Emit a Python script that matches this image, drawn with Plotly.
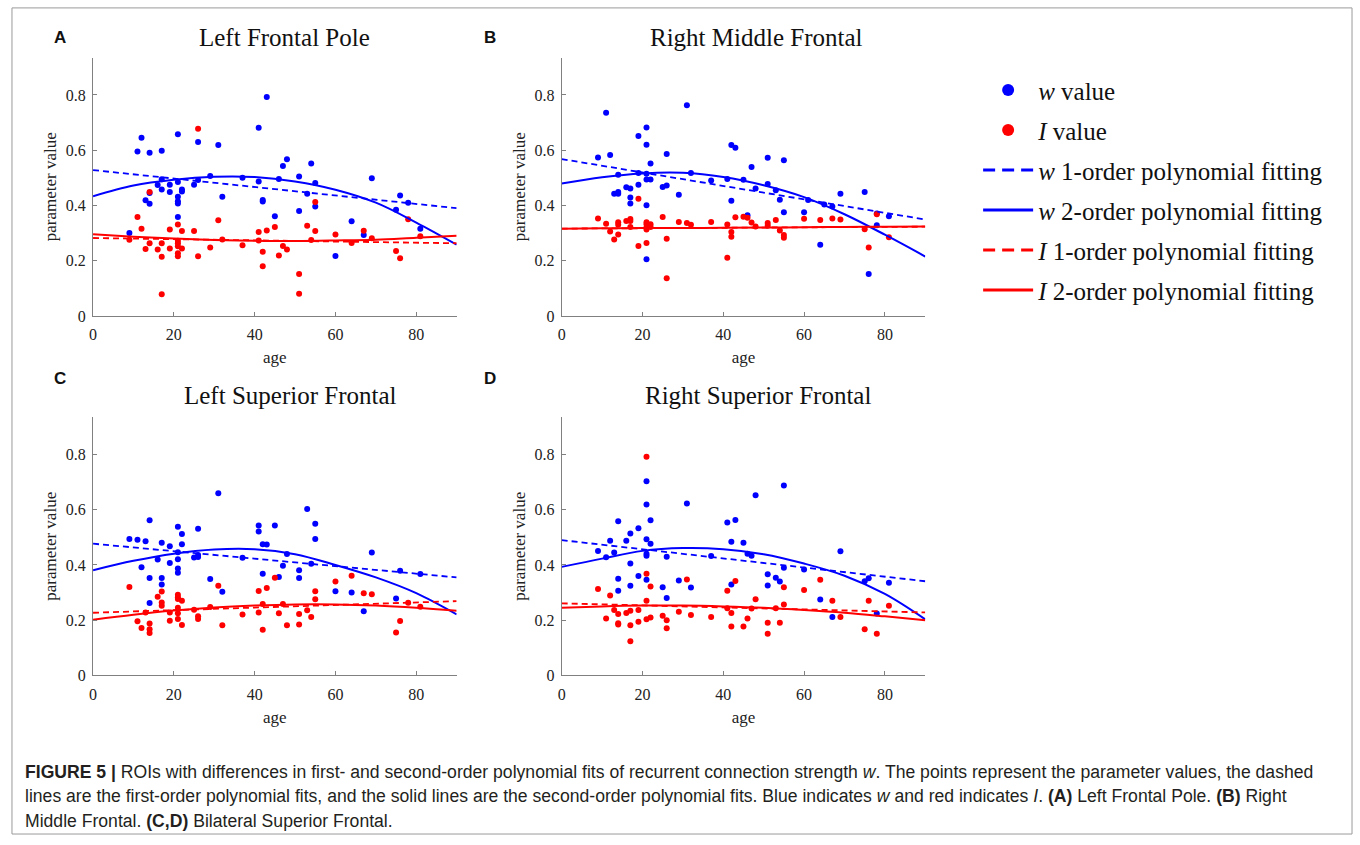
import plotly.graph_objects as go

W, H = 1360, 845
BLUE = '#0000ff'
RED = '#ff0000'
SERIF = 'Liberation Serif, Times New Roman, serif'
SANS = 'Liberation Sans, Arial, sans-serif'

# ---------------- data ----------------
# Panel A: Left Frontal Pole
age_w_A = [9, 11, 12, 13, 14, 14, 14, 16, 17, 17, 17, 19, 19, 21, 21, 21, 21, 21, 21, 22, 22, 25, 26, 26,
           29, 31, 32, 37, 41, 41, 42, 42, 43, 45, 46, 47, 48, 51, 51, 53, 54, 55, 55, 60, 64, 67, 69, 75, 76, 78, 81]
w_A = [0.300, 0.595, 0.645, 0.419, 0.591, 0.445, 0.406, 0.474, 0.598, 0.458, 0.495, 0.475, 0.449, 0.658, 0.485,
       0.431, 0.415, 0.407, 0.358, 0.458, 0.450, 0.475, 0.630, 0.492, 0.507, 0.619, 0.431, 0.500, 0.681, 0.487,
       0.420, 0.414, 0.793, 0.361, 0.496, 0.543, 0.567, 0.505, 0.380, 0.442, 0.552, 0.481, 0.396, 0.217, 0.343,
       0.293, 0.498, 0.384, 0.436, 0.410, 0.316]
age_I_A = [9, 11, 12, 13, 14, 14, 16, 17, 17, 17, 19, 19, 21, 21, 21, 21, 21, 21, 22, 22, 25, 26, 26, 29, 31, 32,
           37, 41, 41, 42, 42, 43, 45, 46, 47, 48, 51, 51, 53, 54, 55, 55, 60, 64, 67, 69, 75, 76, 78, 81]
I_A = [0.276, 0.358, 0.316, 0.242, 0.449, 0.263, 0.240, 0.263, 0.214, 0.078, 0.313, 0.244, 0.331, 0.272, 0.263,
       0.252, 0.227, 0.216, 0.307, 0.244, 0.307, 0.678, 0.216, 0.248, 0.346, 0.277, 0.256, 0.304, 0.273, 0.232,
       0.180, 0.309, 0.322, 0.219, 0.253, 0.240, 0.152, 0.080, 0.326, 0.275, 0.412, 0.307, 0.295, 0.264, 0.308,
       0.281, 0.235, 0.209, 0.350, 0.288]

# Panel B: Right Middle Frontal
age_w_B = [9, 11, 12, 13, 14, 14, 14, 16, 17, 17, 17, 19, 19, 19, 21, 21, 21, 21, 21, 21, 22, 22, 25, 26, 26,
           29, 31, 32, 37, 41, 42, 42, 43, 45, 46, 47, 48, 51, 51, 53, 54, 55, 55, 60, 61, 64, 65, 67, 69, 75,
           76, 78, 78, 81]
w_B = [0.574, 0.736, 0.583, 0.442, 0.511, 0.442, 0.449, 0.466, 0.461, 0.429, 0.407, 0.651, 0.475, 0.517, 0.682,
       0.620, 0.515, 0.494, 0.401, 0.205, 0.552, 0.494, 0.467, 0.586, 0.472, 0.439, 0.763, 0.517, 0.490, 0.496,
       0.619, 0.417, 0.609, 0.493, 0.364, 0.539, 0.461, 0.573, 0.478, 0.455, 0.421, 0.564, 0.375, 0.375, 0.420,
       0.258, 0.403, 0.396, 0.442, 0.449, 0.152, 0.328, 0.371, 0.361]
age_I_B = [9, 11, 12, 13, 14, 14, 14, 16, 17, 17, 17, 19, 19, 21, 21, 21, 21, 21, 22, 22, 25, 26, 26, 29, 31, 32,
           37, 41, 41, 42, 42, 43, 45, 46, 47, 48, 51, 51, 53, 54, 55, 55, 60, 64, 67, 69, 75, 76, 78, 81]
I_B = [0.353, 0.334, 0.306, 0.277, 0.339, 0.330, 0.295, 0.344, 0.351, 0.344, 0.322, 0.424, 0.253, 0.339, 0.332,
       0.320, 0.313, 0.264, 0.332, 0.322, 0.358, 0.279, 0.136, 0.340, 0.336, 0.330, 0.340, 0.331, 0.211, 0.304,
       0.287, 0.357, 0.359, 0.355, 0.338, 0.324, 0.336, 0.326, 0.347, 0.309, 0.293, 0.283, 0.352, 0.347, 0.353,
       0.349, 0.314, 0.248, 0.368, 0.285]

# Panel C: Left Superior Frontal
age_w_C = [9, 11, 12, 13, 14, 14, 14, 16, 17, 17, 17, 19, 19, 21, 21, 21, 21, 21, 22, 22, 25, 26, 26, 26, 29, 31,
           32, 37, 41, 41, 42, 42, 43, 45, 46, 47, 48, 51, 51, 53, 54, 55, 55, 60, 64, 67, 69, 75, 76, 81]
w_C = [0.494, 0.491, 0.392, 0.486, 0.562, 0.353, 0.262, 0.420, 0.480, 0.353, 0.329, 0.468, 0.407, 0.538, 0.446,
       0.421, 0.387, 0.372, 0.512, 0.475, 0.427, 0.531, 0.436, 0.429, 0.349, 0.660, 0.303, 0.426, 0.543, 0.521,
       0.475, 0.368, 0.474, 0.543, 0.356, 0.397, 0.440, 0.381, 0.353, 0.603, 0.404, 0.549, 0.494, 0.305, 0.300,
       0.232, 0.445, 0.279, 0.379, 0.367]
age_I_C = [9, 11, 12, 13, 14, 14, 14, 16, 17, 17, 17, 19, 19, 21, 21, 21, 21, 21, 21, 22, 22, 25, 26, 26, 29, 31,
           32, 37, 41, 41, 42, 42, 43, 45, 46, 47, 48, 51, 51, 53, 54, 55, 55, 60, 64, 67, 69, 75, 76, 78, 81]
I_C = [0.320, 0.196, 0.172, 0.228, 0.188, 0.167, 0.154, 0.285, 0.304, 0.264, 0.252, 0.228, 0.198, 0.292, 0.283,
       0.277, 0.245, 0.225, 0.204, 0.270, 0.183, 0.238, 0.214, 0.204, 0.248, 0.325, 0.182, 0.221, 0.306, 0.228,
       0.259, 0.165, 0.317, 0.354, 0.225, 0.259, 0.182, 0.222, 0.184, 0.236, 0.212, 0.305, 0.276, 0.340, 0.361,
       0.298, 0.294, 0.155, 0.197, 0.263, 0.249]

# Panel D: Right Superior Frontal
age_w_D = [9, 11, 12, 13, 14, 14, 14, 16, 17, 17, 17, 19, 19, 21, 21, 21, 21, 21, 21, 22, 22, 25, 26, 26, 29, 31,
           32, 37, 41, 42, 42, 43, 45, 46, 47, 48, 51, 51, 53, 54, 55, 55, 60, 64, 67, 69, 75, 76, 78, 81]
w_D = [0.451, 0.428, 0.488, 0.445, 0.558, 0.350, 0.307, 0.488, 0.514, 0.405, 0.325, 0.533, 0.360, 0.703, 0.619,
       0.493, 0.441, 0.433, 0.346, 0.562, 0.477, 0.319, 0.430, 0.280, 0.344, 0.623, 0.318, 0.432, 0.554, 0.484,
       0.329, 0.563, 0.480, 0.441, 0.433, 0.652, 0.366, 0.326, 0.354, 0.340, 0.688, 0.390, 0.384, 0.275, 0.212,
       0.450, 0.341, 0.352, 0.224, 0.336]
age_I_D = [9, 11, 12, 13, 14, 14, 14, 16, 17, 17, 17, 19, 19, 21, 21, 21, 21, 22, 22, 25, 26, 26, 29, 31, 32, 37,
           41, 41, 42, 42, 43, 45, 46, 47, 48, 51, 51, 53, 54, 55, 55, 60, 64, 67, 69, 75, 76, 78, 81]
I_D = [0.313, 0.206, 0.289, 0.237, 0.222, 0.189, 0.184, 0.226, 0.234, 0.182, 0.124, 0.237, 0.194, 0.792, 0.368,
       0.270, 0.203, 0.322, 0.210, 0.216, 0.200, 0.171, 0.231, 0.347, 0.219, 0.212, 0.307, 0.243, 0.226, 0.177,
       0.342, 0.177, 0.206, 0.242, 0.276, 0.191, 0.151, 0.243, 0.191, 0.319, 0.257, 0.309, 0.346, 0.270, 0.212,
       0.167, 0.270, 0.151, 0.252]

# fitted curves
FIT1_AGE = [0, 90]
FIT2_AGE = [0, 10, 20, 30, 40, 50, 60, 70, 80, 90]
w1_A = [0.528, 0.390]
w2_A = [0.433, 0.472, 0.493, 0.504, 0.503, 0.487, 0.457, 0.410, 0.338, 0.258]
I1_A = [0.282, 0.263]
I2_A = [0.296, 0.287, 0.280, 0.275, 0.272, 0.271, 0.273, 0.276, 0.283, 0.290]
w1_B = [0.568, 0.349]
w2_B = [0.479, 0.502, 0.516, 0.518, 0.503, 0.473, 0.430, 0.368, 0.294, 0.215]
I1_B = [0.316, 0.323]
I2_B = [0.316, 0.317, 0.318, 0.318, 0.319, 0.320, 0.321, 0.322, 0.323, 0.324]
w1_C = [0.477, 0.355]
w2_C = [0.381, 0.415, 0.441, 0.456, 0.457, 0.439, 0.400, 0.355, 0.298, 0.221]
I1_C = [0.227, 0.269]
I2_C = [0.202, 0.220, 0.235, 0.246, 0.253, 0.257, 0.257, 0.253, 0.245, 0.234]
w1_D = [0.490, 0.341]
w2_D = [0.393, 0.423, 0.451, 0.461, 0.457, 0.439, 0.405, 0.361, 0.295, 0.203]
I1_D = [0.261, 0.228]
I2_D = [0.245, 0.250, 0.253, 0.253, 0.250, 0.245, 0.237, 0.227, 0.214, 0.200]

X_TICKS = [0, 20, 40, 60, 80]
Y_TICKS = [0, 0.2, 0.4, 0.6, 0.8]
Y_TICK_TEXT = ['0', '0.2', '0.4', '0.6', '0.8']
PANEL_TITLES = ['Left Frontal Pole', 'Right Middle Frontal', 'Left Superior Frontal', 'Right Superior Frontal']
PANEL_LETTERS = ['A', 'B', 'C', 'D']
LEGEND_NAMES = ['<i>w</i> value', '<i>I</i> value', '<i>w</i> 1-order polynomial fitting',
                '<i>w</i> 2-order polynomial fitting', '<i>I</i> 1-order polynomial fitting',
                '<i>I</i> 2-order polynomial fitting']


def px(x):
    return x / W


def py(y):
    return 1 - y / H


panels = [
    dict(aw=age_w_A, w=w_A, ai=age_I_A, i=I_A, w1=w1_A, w2=w2_A, i1=I1_A, i2=I2_A, left=89.3, top=58.3),
    dict(aw=age_w_B, w=w_B, ai=age_I_B, i=I_B, w1=w1_B, w2=w2_B, i1=I1_B, i2=I2_B, left=559.3, top=58.3),
    dict(aw=age_w_C, w=w_C, ai=age_I_C, i=I_C, w1=w1_C, w2=w2_C, i1=I1_C, i2=I2_C, left=89.3, top=421.7),
    dict(aw=age_w_D, w=w_D, ai=age_I_D, i=I_D, w1=w1_D, w2=w2_D, i1=I1_D, i2=I2_D, left=559.3, top=421.7),
]
PW, PH = 364.7, 261.0
title_pos = [(281, 38), (755, 38), (287, 400), (756, 400)]
letter_pos = [(56, 38), (487, 38), (56, 383), (487, 383)]

fig = go.Figure()
layout_axes = {}
DASH = '6px,4px'
for k, p in enumerate(panels):
    n = '' if k == 0 else str(k + 1)
    xr, yr = 'x' + n, 'y' + n
    mk = dict(size=6, line=dict(width=0))
    fig.add_trace(go.Scatter(x=p['aw'], y=p['w'], mode='markers', marker=dict(color=BLUE, **mk),
                             name=LEGEND_NAMES[0], legendgroup='g1', showlegend=False, xaxis=xr, yaxis=yr))
    fig.add_trace(go.Scatter(x=p['ai'], y=p['i'], mode='markers', marker=dict(color=RED, **mk),
                             name=LEGEND_NAMES[1], legendgroup='g2', showlegend=False, xaxis=xr, yaxis=yr))
    fig.add_trace(go.Scatter(x=FIT1_AGE, y=p['w1'], mode='lines', line=dict(color=BLUE, width=1.8, dash=DASH),
                             name=LEGEND_NAMES[2], legendgroup='g3', showlegend=False, xaxis=xr, yaxis=yr))
    fig.add_trace(go.Scatter(x=FIT2_AGE, y=p['w2'], mode='lines', line=dict(color=BLUE, width=2, shape='spline'),
                             name=LEGEND_NAMES[3], legendgroup='g4', showlegend=False, xaxis=xr, yaxis=yr))
    fig.add_trace(go.Scatter(x=FIT1_AGE, y=p['i1'], mode='lines', line=dict(color=RED, width=1.8, dash=DASH),
                             name=LEGEND_NAMES[4], legendgroup='g5', showlegend=False, xaxis=xr, yaxis=yr))
    fig.add_trace(go.Scatter(x=FIT2_AGE, y=p['i2'], mode='lines', line=dict(color=RED, width=2, shape='spline'),
                             name=LEGEND_NAMES[5], legendgroup='g6', showlegend=False, xaxis=xr, yaxis=yr))

    common = dict(showgrid=False, zeroline=False, showline=True, linecolor='#808080', linewidth=1,
                  ticks='inside', ticklen=4, tickcolor='#808080', tickwidth=1,
                  tickfont=dict(family=SERIF, size=16, color='#222222'))
    layout_axes['xaxis' + n] = dict(
        domain=[px(p['left']), px(p['left'] + PW)], anchor=yr, range=[0, 90], tickvals=X_TICKS,
        title=dict(text='age', font=dict(family=SERIF, size=17, color='#222222'), standoff=9),
        ticklabelstandoff=4, **common)
    layout_axes['yaxis' + n] = dict(
        domain=[py(p['top'] + PH), py(p['top'])], anchor=xr, range=[0, 0.935], tickvals=Y_TICKS,
        ticktext=Y_TICK_TEXT,
        title=dict(text='parameter value', font=dict(family=SERIF, size=17, color='#222222'), standoff=4),
        ticklabelstandoff=3, **common)

# legend entries (same styles, larger samples as in the reference key)
LEG_DASH = '12px,7px'
legend_styles = [
    dict(mode='markers', marker=dict(color=BLUE, size=12)),
    dict(mode='markers', marker=dict(color=RED, size=12)),
    dict(mode='lines', line=dict(color=BLUE, width=3, dash=LEG_DASH)),
    dict(mode='lines', line=dict(color=BLUE, width=3)),
    dict(mode='lines', line=dict(color=RED, width=3, dash=LEG_DASH)),
    dict(mode='lines', line=dict(color=RED, width=3)),
]
for j, st in enumerate(legend_styles):
    fig.add_trace(go.Scatter(x=[None], y=[None], name=LEGEND_NAMES[j], legendgroup='g%d' % (j + 1),
                             showlegend=True, hoverinfo='skip', xaxis='x', yaxis='y', **st))

annotations = []
for k in range(4):
    tx, ty = title_pos[k]
    annotations.append(dict(x=px(tx), y=py(ty), xref='paper', yref='paper', text=PANEL_TITLES[k],
                            showarrow=False, xanchor='center', yanchor='middle',
                            font=dict(family=SERIF, size=25, color='#111111')))
    lx, ly = letter_pos[k]
    annotations.append(dict(x=px(lx), y=py(ly), xref='paper', yref='paper', text='<b>%s</b>' % PANEL_LETTERS[k],
                            showarrow=False, xanchor='center', yanchor='middle',
                            font=dict(family=SANS, size=17, color='#111111')))

caption = [
    '<b>FIGURE 5 |</b> ROIs with differences in first- and second-order polynomial fits of recurrent connection '
    'strength <i>w</i>. The points represent the parameter values, the dashed',
    'lines are the first-order polynomial fits, and the solid lines are the second-order polynomial fits. '
    'Blue indicates <i>w</i> and red indicates <i>I</i>. <b>(A)</b> Left Frontal Pole. <b>(B)</b> Right',
    'Middle Frontal. <b>(C,D)</b> Bilateral Superior Frontal.',
]
for j, line in enumerate(caption):
    annotations.append(dict(x=px(19), y=py(780 + 25 * j), xref='paper', yref='paper', text=line,
                            showarrow=False, xanchor='left', yanchor='middle',
                            font=dict(family=SANS, size=17.6, color='#231f20')))

fig.update_layout(
    width=W, height=H, autosize=False,
    margin=dict(l=0, r=0, t=0, b=0),
    paper_bgcolor='white', plot_bgcolor='white',
    showlegend=True,
    legend=dict(x=px(977), y=py(68), xanchor='left', yanchor='top', traceorder='grouped',
                tracegroupgap=4.5, itemwidth=50,
                font=dict(family=SERIF, size=25, color='#111111'), bgcolor='rgba(0,0,0,0)'),
    annotations=annotations,
    shapes=[dict(type='rect', xref='paper', yref='paper', x0=px(8), x1=px(1352), y0=py(843), y1=py(8),
                 line=dict(color='#9a9a9a', width=1), fillcolor='rgba(0,0,0,0)')],
    **layout_axes,
)

fig.write_html('out.html')
